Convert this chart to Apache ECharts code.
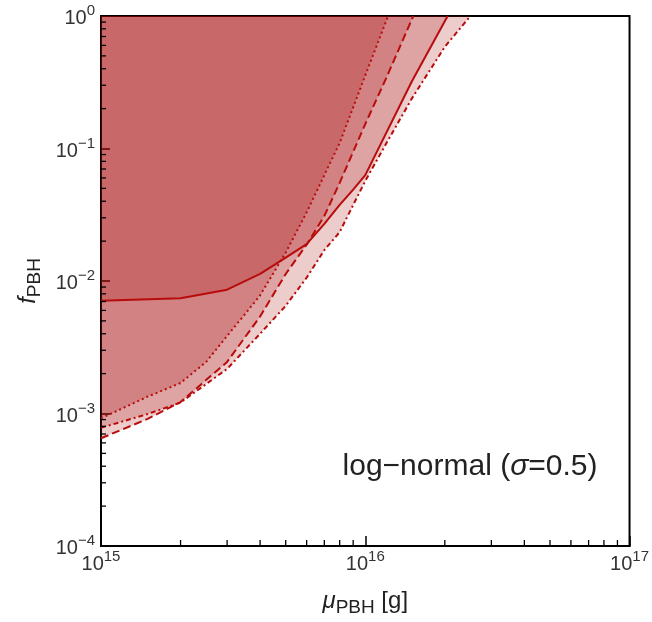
<!DOCTYPE html>
<html><head><meta charset="utf-8">
<script src="https://cdn.jsdelivr.net/npm/echarts@6/dist/echarts.min.js"></script>
<style>html,body{margin:0;padding:0;background:#fff}#c{width:652px;height:622px}</style>
</head><body><div id="c"></div>
<script>
const FONT = '"Liberation Sans", Arial, Helvetica, sans-serif';

// ---- data (mass in g, f_PBH) ----
const dottedMass = [1e15, 1.5e15, 2e15, 2.5e15, 3e15, 3.5e15, 4e15, 5e15, 6e15, 7e15, 8e15, 1e16, 1.22e16];
const dottedF    = [0.00092, 0.00134, 0.0017, 0.00245, 0.00385, 0.0056, 0.0078, 0.0164, 0.033, 0.063, 0.11, 0.356, 1];

const dashedMass = [1e15, 1.5e15, 2e15, 3e15, 4e15, 5e15, 6e15, 7e15, 8e15, 1e16, 1.2e16, 1.52e16];
const dashedF    = [0.00065, 0.00091, 0.00122, 0.00245, 0.0054, 0.0113, 0.0188, 0.031, 0.055, 0.153, 0.34, 1];

const solidMass  = [1e15, 2e15, 3e15, 4e15, 5e15, 6e15, 7e15, 8e15, 9e15, 1e16, 1.5e16, 2.05e16];
const solidF     = [0.0071, 0.0074, 0.0086, 0.0113, 0.015, 0.019, 0.027, 0.0375, 0.049, 0.063, 0.32, 1];

const dashDotMass = [1e15, 1.5e15, 2e15, 3e15, 4e15, 5e15, 6e15, 7e15, 8e15, 9e15, 1e16, 1.2e16, 1.5e16, 2e16, 2.5e16];
const dashDotF    = [0.00078, 0.00099, 0.00121, 0.00217, 0.0040, 0.0065, 0.0106, 0.0171, 0.0234, 0.0375, 0.0569, 0.109, 0.238, 0.586, 1];

// ---- axes / tick labels ----
const xMin = 1e15, xMax = 1e17, yMin = 1e-4, yMax = 1;
const xTickExponents = ['15', '16', '17'];
const yTickExponents = ['\u22124', '\u22123', '\u22122', '\u22121', '0'];
const minorMultipliers = [2, 3, 4, 5, 6, 7, 8, 9];
const xMinorDecades = [15, 16];
const yMinorDecades = [-4, -3, -2, -1];

const LINE = '#b80c0c';
const FILL = 'rgba(165,0,0,0.2)';
const TEXT = '#333';

function pairs(m, f) { return m.map((v, i) => [v, f[i]]); }

const curves = [
  { m: dottedMass, f: dottedF, dash: [2, 3] },
  { m: dashedMass, f: dashedF, dash: [8, 4] },
  { m: solidMass, f: solidF, dash: 'solid' },
  { m: dashDotMass, f: dashDotF, dash: [5, 3, 2, 3] }
];

const fillSeries = curves.map(c => ({
  type: 'custom', coordinateSystem: 'cartesian2d', silent: true, z: 1,
  data: [[xMin, yMax]],
  renderItem: (params, api) => {
    const pts = pairs(c.m, c.f).map(p => api.coord(p));
    pts.push(api.coord([xMin, yMax]));
    return { type: 'polygon', shape: { points: pts }, style: { fill: FILL, stroke: null, lineWidth: 0 } };
  }
}));

const lineSeries = curves.map(c => ({
  type: 'line', data: pairs(c.m, c.f), symbol: 'none', silent: true, z: 3,
  lineStyle: { color: LINE, width: 2, type: c.dash }
}));

const minorTickSeries = {
  type: 'custom', coordinateSystem: 'cartesian2d', silent: true, z: 5,
  data: [[xMin, yMin]],
  renderItem: (params, api) => {
    const children = [];
    xMinorDecades.forEach(e => minorMultipliers.forEach(k => {
      const p = api.coord([k * Math.pow(10, e), yMin]);
      children.push({ type: 'line', shape: { x1: p[0], y1: p[1], x2: p[0], y2: p[1] - 6 }, style: { stroke: '#000', lineWidth: 1.3 } });
    }));
    yMinorDecades.forEach(e => minorMultipliers.forEach(k => {
      const p = api.coord([xMin, k * Math.pow(10, e)]);
      children.push({ type: 'line', shape: { x1: p[0], y1: p[1], x2: p[0] + 5, y2: p[1] }, style: { stroke: '#000', lineWidth: 1.3 } });
    }));
    return { type: 'group', children };
  }
};

const tickRich = {
  b: { fontSize: 20, fontFamily: FONT, color: TEXT, lineHeight: 25, verticalAlign: 'bottom' },
  s: { fontSize: 15, fontFamily: FONT, color: TEXT, lineHeight: 15, verticalAlign: 'top' }
};

function fmt(labels, first) {
  return v => {
    const i = Math.round(Math.log10(v)) - first;
    return '{b|10}{s|' + labels[i] + '}';
  };
}

const chart = echarts.init(document.getElementById('c'), null, { renderer: 'canvas' });
chart.setOption({
  animation: false,
  backgroundColor: '#fff',
  grid: { left: 101, right: 22, top: 16, bottom: 76, show: true, borderColor: '#000', borderWidth: 2, backgroundColor: 'transparent' },
  xAxis: {
    type: 'log', logBase: 10, min: xMin, max: xMax,
    axisLine: { show: true, lineStyle: { color: '#000', width: 2 } },
    axisTick: { show: true, inside: true, length: 10, lineStyle: { color: '#000', width: 1.5 } },
    splitLine: { show: false },
    axisLabel: { margin: 3, formatter: fmt(xTickExponents, 15), rich: tickRich, showMinLabel: true, showMaxLabel: true },
    name: '{i|\u03bc}{s|PBH}{n| [g]}',
    nameLocation: 'middle', nameGap: 43,
    nameTextStyle: {
      rich: {
        i: { fontSize: 24, fontStyle: 'italic', fontFamily: FONT, color: '#222', lineHeight: 28, verticalAlign: 'top' },
        s: { fontSize: 19, fontFamily: FONT, color: '#222', lineHeight: 19, verticalAlign: 'bottom' },
        n: { fontSize: 24, fontFamily: FONT, color: '#222', lineHeight: 28, verticalAlign: 'top' }
      }
    }
  },
  yAxis: {
    type: 'log', logBase: 10, min: yMin, max: yMax,
    axisLine: { show: true, lineStyle: { color: '#000', width: 2 } },
    axisTick: { show: true, inside: true, length: 9, lineStyle: { color: '#000', width: 1.5 } },
    splitLine: { show: false },
    axisLabel: { margin: 6, formatter: fmt(yTickExponents, -4), rich: tickRich, showMinLabel: true, showMaxLabel: true },
    name: '{i|f}{s|PBH}',
    nameLocation: 'middle', nameGap: 55, nameRotate: 90,
    nameTextStyle: {
      rich: {
        i: { fontSize: 24, fontStyle: 'italic', fontFamily: FONT, color: '#222', lineHeight: 28, verticalAlign: 'top' },
        s: { fontSize: 19, fontFamily: FONT, color: '#222', lineHeight: 19, verticalAlign: 'bottom' }
      }
    }
  },
  graphic: [{
    type: 'text', x: 470, y: 467, z: 10,
    style: {
      text: '{a|log\u2212normal (}{g|\u03c3}{a|=0.5)}',
      align: 'center', verticalAlign: 'middle',
      rich: {
        a: { fontSize: 30, fontFamily: FONT, fill: '#222' },
        g: { fontSize: 30, fontFamily: FONT, fontStyle: 'italic', fill: '#222' }
      }
    }
  }],
  series: [...fillSeries, ...lineSeries, minorTickSeries]
});
</script></body></html>
